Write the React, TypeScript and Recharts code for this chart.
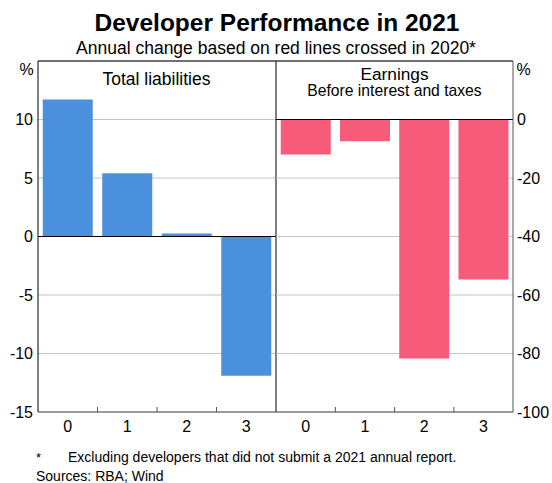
import React from 'react';
import { BarChart, Bar, XAxis, YAxis, CartesianGrid, ReferenceLine } from 'recharts';

const categories = ['0', '1', '2', '3'];
const liabilities = [11.7, 5.4, 0.25, -11.9];
const earnings = [-12, -7.4, -81.7, -54.7];

const leftTicks = [-15, -10, -5, 0, 5, 10];
const rightTicks = [-100, -80, -60, -40, -20, 0];

const BLUE = '#4A90DC';
const PINK = '#F65B7A';
const GRID = '#c4c4c4';
const AXIS = '#555';
const FONT = '"Liberation Sans", Arial, sans-serif';

const PLOT_W = 238;
const bandW = PLOT_W / categories.length;

const leftData = categories.map((c, i) => ({ cat: c, value: liabilities[i] }));
const rightData = categories.map((c, i) => ({ cat: c, value: earnings[i] }));

// category label in the middle, small inward tick on the boundary to the right
const XTick = (props: any) => {
  const { x, y, payload, index } = props;
  return (
    <g>
      <text x={x} y={y + 20} textAnchor="middle" fontSize={16} fill="#000" fontFamily={FONT}>
        {payload.value}
      </text>
      {index < categories.length - 1 && (
        <line x1={x + bandW / 2} x2={x + bandW / 2} y1={y} y2={y - 5} stroke={AXIS} />
      )}
    </g>
  );
};

export default function App() {
  return (
    <div
      style={{
        position: 'absolute',
        left: 0,
        top: 0,
        width: 552,
        height: 483,
        background: '#fff',
        fontFamily: FONT,
      }}
    >
      <div style={{ position: 'absolute', left: 0, top: 0 }}>
        <BarChart
          width={277}
          height={442}
          data={leftData}
          margin={{ top: 61, right: 0, left: 0, bottom: 0 }}
          barCategoryGap="8%"
        >
          <CartesianGrid vertical={false} stroke={GRID} yAxisId="l" />
          <XAxis
            dataKey="cat"
            height={30}
            tickLine={false}
            tickSize={0}
            tickMargin={0}
            axisLine={{ stroke: AXIS }}
            tick={<XTick />}
            interval={0}
          />
          <YAxis
            yAxisId="l"
            width={38}
            domain={[-15, 15]}
            ticks={leftTicks}
            tickLine={false}
            tickSize={0}
            tickMargin={5}
            axisLine={{ stroke: '#000' }}
            tick={{ fontSize: 16, fill: '#000', fontFamily: FONT }}
            interval={0}
          />
          <YAxis
            yAxisId="edge"
            orientation="right"
            width={1}
            domain={[-15, 15]}
            tick={false}
            tickLine={false}
            axisLine={{ stroke: '#000' }}
          />
          <ReferenceLine yAxisId="l" y={0} stroke="#000" />
          <ReferenceLine yAxisId="l" y={15} stroke="#000" />
          <Bar yAxisId="l" dataKey="value" fill={BLUE} isAnimationActive={false} />
        </BarChart>
      </div>

      <div style={{ position: 'absolute', left: 276, top: 0 }}>
        <BarChart
          width={276}
          height={442}
          data={rightData}
          margin={{ top: 61, right: 0, left: 0, bottom: 0 }}
          barCategoryGap="8%"
        >
          <CartesianGrid vertical={false} stroke={GRID} yAxisId="r" />
          <XAxis
            dataKey="cat"
            height={30}
            tickLine={false}
            tickSize={0}
            tickMargin={0}
            axisLine={{ stroke: AXIS }}
            tick={<XTick />}
            interval={0}
          />
          <YAxis
            yAxisId="r"
            orientation="right"
            width={39}
            domain={[-100, 20]}
            ticks={rightTicks}
            tickLine={false}
            tickSize={0}
            tickMargin={4}
            axisLine={{ stroke: AXIS }}
            tick={{ fontSize: 16, fill: '#000', fontFamily: FONT, textAnchor: 'start' }}
            interval={0}
          />
          <ReferenceLine yAxisId="r" y={0} stroke="#000" />
          <ReferenceLine yAxisId="r" y={20} stroke="#000" />
          <Bar yAxisId="r" dataKey="value" fill={PINK} isAnimationActive={false} />
        </BarChart>
      </div>

      <svg
        width={552}
        height={483}
        style={{ position: 'absolute', left: 0, top: 0, pointerEvents: 'none' }}
        fontFamily={FONT}
      >
        <text x={277} y={31} textAnchor="middle" fontSize={24.5} fontWeight="bold" fill="#000">
          Developer Performance in 2021
        </text>
        <text x={276} y={54} textAnchor="middle" fontSize={17.5} fill="#000">
          Annual change based on red lines crossed in 2020*
        </text>
        <text x={26.5} y={75} textAnchor="middle" fontSize={16} fill="#000">%</text>
        <text x={523.5} y={75} textAnchor="middle" fontSize={16} fill="#000">%</text>
        <text x={156.5} y={85} textAnchor="middle" fontSize={17.5} fill="#000">Total liabilities</text>
        <text x={394.5} y={79.5} textAnchor="middle" fontSize={17.3} fill="#000">Earnings</text>
        <text x={394.5} y={96} textAnchor="middle" fontSize={15.7} fill="#000">
          Before interest and taxes
        </text>
        <text x={36} y={462} fontSize={13} fill="#000">*</text>
        <text x={68} y={462} fontSize={14} fill="#000">
          Excluding developers that did not submit a 2021 annual report.
        </text>
        <text x={36} y={481} fontSize={14} fill="#000">Sources: RBA; Wind</text>
      </svg>
    </div>
  );
}
